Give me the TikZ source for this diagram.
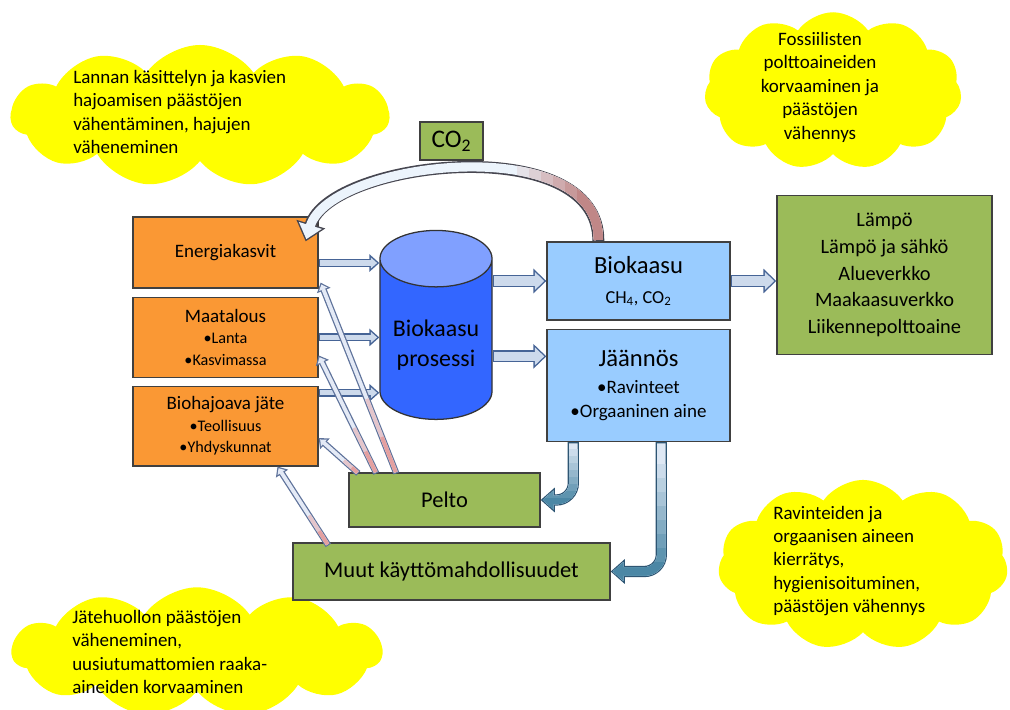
\documentclass[tikz,border=0pt]{standalone}
\usepackage{fontspec}
\setmainfont{Carlito}
\usepackage{tikz}
\usetikzlibrary{positioning, calc}
\usetikzlibrary{shapes.geometric, shapes.symbols, arrows.meta}

\definecolor{boxorange}{RGB}{250,152,52}
\definecolor{boxblue}{RGB}{153,204,255}
\definecolor{boxgreen}{RGB}{155,187,89}
\definecolor{tankbody}{RGB}{51,102,255}
\definecolor{tanktop}{RGB}{128,160,255}
\definecolor{cloudyellow}{RGB}{255,255,0}
\definecolor{flowedge}{RGB}{70,100,150}
\definecolor{flowfill}{RGB}{205,218,236}
\definecolor{thinedge}{RGB}{95,115,155}
\definecolor{thinfill}{RGB}{228,234,246}
\definecolor{thintail}{RGB}{228,160,160}
\definecolor{cotail}{RGB}{190,130,130}
\definecolor{cofill}{RGB}{236,244,252}
\definecolor{coedge}{RGB}{70,70,80}
\definecolor{bendedge}{RGB}{45,85,115}
\definecolor{bendlight}{RGB}{222,232,244}
\definecolor{bendteal}{RGB}{75,135,165}

\tikzset{
	box/.style={draw=black!75, line width=0.9pt, align=center, inner sep=2pt},
	orangebox/.style={box, fill=boxorange, minimum width=131.6pt, font=\fontsize{13.5}{15.3}\selectfont},
	bluebox/.style={box, fill=boxblue, minimum width=130.2pt},
	greenbox/.style={box, fill=boxgreen},
	cloudbox/.style={cloud, cloud puffs=11, cloud puff arc=110, cloud ignores aspect, fill=cloudyellow},
	cloudtext/.style={inner sep=0pt, font=\fontsize{13.5}{16.7}\selectfont},
	flow/.style={line width=5.7pt, draw=flowedge, -{Triangle[length=7pt,width=12pt]},
		postaction={draw=flowfill, line width=3.7pt, shorten >=1.54pt, shorten <=1pt, -{Triangle[length=4.5pt,width=7.6pt]}}},
	bigflow/.style={line width=8.5pt, draw=flowedge, -{Triangle[length=9.2pt,width=17pt]},
		postaction={draw=flowfill, line width=6.5pt, shorten >=1.47pt, shorten <=1pt, -{Triangle[length=6.7pt,width=12.4pt]}}},
	thinflow/.style={line width=4.5pt, draw=thinedge, -{Triangle[length=6pt,width=10pt]},
		postaction={thininner, draw=thinfill, -{Triangle[length=3.7pt,width=6.2pt]}}},
	thininner/.style={line width=2.7pt, shorten >=1.4pt, shorten <=0.9pt},
	coarrow/.style={line width=8.5pt, draw=coedge, -{Triangle[length=12.8pt,width=20.6pt]},
		postaction={coinner, draw=cofill}},
	coinner/.style={line width=6.5pt, shorten >=1.6pt, shorten <=1pt, -{Triangle[length=10.2pt,width=16.4pt]}},
	bendflow/.style={line width=8pt, draw=bendedge, rounded corners=12pt, -{Triangle[length=10pt,width=17pt]},
		postaction={bendinner, draw=bendlight}},
	bendinner/.style={line width=6pt, rounded corners=12pt, shorten >=1.54pt, shorten <=1pt, -{Triangle[length=7.46pt,width=12.7pt]}}
}

\begin{document}
\begin{tikzpicture}[x=0.025cm, y=-0.025cm]
	\useasboundingbox (0,0) rectangle (1010,709);

	\node (c1) [cloudbox, minimum width=269pt, minimum height=101pt] at (200,116) {};
	\node (c2) [cloudbox, minimum width=183pt, minimum height=112pt] at (833,91) {};
	\node (c3) [cloudbox, minimum width=263pt, minimum height=92pt] at (197,652) {};
	\node (c4) [cloudbox, minimum width=206pt, minimum height=121pt] at (863,565) {};
	\node (c1t) [cloudtext, anchor=west, align=left] at (73,112)
		{Lannan käsittelyn ja kasvien\\hajoamisen päästöjen\\vähentäminen, hajujen\\väheneminen};
	\node (c2t) [cloudtext, align=center] at (820,87)
		{Fossiilisten\\polttoaineiden\\korvaaminen ja\\päästöjen\\vähennys};
	\node (c3t) [cloudtext, anchor=west, align=left] at (72,652)
		{Jätehuollon päästöjen\\väheneminen,\\uusiutumattomien raaka-\\aineiden korvaaminen};
	\node (c4t) [cloudtext, anchor=west, align=left] at (773,561)
		{Ravinteiden ja\\orgaanisen aineen\\kierrätys,\\hygienisoituminen,\\päästöjen vähennys};

	\node (ek) [orangebox, minimum height=50.5pt] at (225.5,252.5) {Energiakasvit};
	\node (ma) [orangebox, minimum height=56.5pt, below=6pt of ek]
		{Maatalous\\{\fontsize{11.5}{15.3}\selectfont •Lanta}\\{\fontsize{11.5}{15.3}\selectfont •Kasvimassa}};
	\node (bj) [orangebox, minimum height=56.5pt, below=5.7pt of ma]
		{Biohajoava jäte\\{\fontsize{11.5}{15}\selectfont •Teollisuus}\\{\fontsize{11.5}{15}\selectfont •Yhdyskunnat}};

	\node (tank) [cylinder, shape border rotate=90, draw=black!80, line width=0.9pt, aspect=0.59,
		minimum width=79.7pt, minimum height=134.4pt, cylinder uses custom fill,
		cylinder body fill=tankbody, cylinder end fill=tanktop, align=center,
		font=\fontsize{17}{21.3}\selectfont] at (436,345) {Biokaasu\\prosessi};

	\node (bk) [bluebox, minimum height=55.5pt, font=\fontsize{17.5}{21.3}\selectfont] at (638.5,281)
		{Biokaasu\\{\fontsize{13}{21.3}\selectfont CH\textsubscript{4}, CO\textsubscript{2}}};
	\node (jn) [bluebox, minimum height=79.7pt, below=5.7pt of bk, font=\fontsize{13.5}{17}\selectfont]
		{{\fontsize{17.5}{20}\selectfont Jäännös}\\[2pt]•Ravinteet\\•Orgaaninen aine};

	\node (out) [greenbox, minimum width=153pt, minimum height=113pt, font=\fontsize{14.5}{19}\selectfont] at (884.5,275)
		{Lämpö\\Lämpö ja sähkö\\Alueverkko\\Maakaasuverkko\\Liikennepolttoaine};
	\node (co2) [greenbox, minimum width=44.8pt, minimum height=27pt, font=\fontsize{18}{20}\selectfont] at (451.5,141)
		{CO\textsubscript{2}};
	\node (pelto) [greenbox, minimum width=135.9pt, minimum height=38.4pt, font=\fontsize{16}{18}\selectfont] at (444.5,500) {Pelto};
	\node (muut) [greenbox, minimum width=225.5pt, minimum height=40.5pt, font=\fontsize{16}{18}\selectfont] at (451.5,571.5)
		{Muut käyttömahdollisuudet};

	\coordinate (a1) at ($(ek.east)+(0,10.5)$);
	\coordinate (a3) at ($(bj.north east)+(0,7)$);
	\coordinate (a5) at ($(jn.west)+(0,-29)$);
	\draw [flow] (a1) -- (a1 -| tank.west);
	\draw [flow] (ma.east) -- (ma.east -| tank.west);
	\draw [flow] (a3) -- (a3 -| tank.west);
	\draw [bigflow] (bk.west -| tank.east) -- (bk.west);
	\draw [bigflow] (a5 -| tank.east) -- (a5);
	\draw [bigflow] (bk.east) -- (bk.east -| out.west);

	\coordinate (t1) at ($(pelto.north west)+(10,1)$);
	\coordinate (t2) at ($(pelto.north west)+(28,1)$);
	\coordinate (t3) at ($(pelto.north west)+(48,1)$);
	\coordinate (t4) at ($(muut.north west)+(36,3)$);
	\coordinate (h1) at ($(bj.east)+(0,12)$);
	\coordinate (h2) at ($(ma.east)+(0,18)$);
	\coordinate (h3) at ($(ek.south east)+(2,-6)$);
	\coordinate (h4) at ($(bj.south)+(52,0)$);
	\foreach \t/\h in {t1/h1, t2/h2, t3/h3, t4/h4}{
		\draw [thinflow] (\t) -- (\h);
		\draw [thininner, draw=thintail!50!thinfill] (\t) -- ($(\t)!0.4!(\h)$);
		\draw [thininner, draw=thintail] (\t) -- ($(\t)!0.2!(\h)$);
	}

	\coordinate (j1) at ($(jn.south west)+(27,0)$);
	\coordinate (j2) at ($(jn.south west)+(115,0)$);
	\draw [bendflow] (j1) |- (pelto.east);
	\draw [bendflow] (j2) |- (muut.east);
	\foreach \i in {1,...,8}{
		\pgfmathtruncatemacro\pct{\i*12.5}
		\begin{scope}
			\clip (0,442+7*\i) rectangle (1010,709);
			\draw [bendinner, draw=bendteal!\pct!bendlight] (j1) |- (pelto.east);
		\end{scope}
		\begin{scope}
			\clip (0,450+14*\i) rectangle (1010,709);
			\draw [bendinner, draw=bendteal!\pct!bendlight] (j2) |- (muut.east);
		\end{scope}
	}

	\coordinate (co1) at ($(bk.north west)+(52,0)$);
	\coordinate (co9) at ($(ek.north east)+(-13,25)$);
	\draw [coarrow] (co1) .. controls (600,130) and (330,160) .. (co9);
	\foreach \i in {1,...,6}{
		\pgfmathtruncatemacro\pct{\i*16}
		\begin{scope}
			\clip (505+12*\i,100) rectangle (650,250);
			\draw [coinner, draw=cotail!\pct!cofill] (co1) .. controls (600,130) and (330,160) .. (co9);
		\end{scope}
	}
\end{tikzpicture}
\end{document}
